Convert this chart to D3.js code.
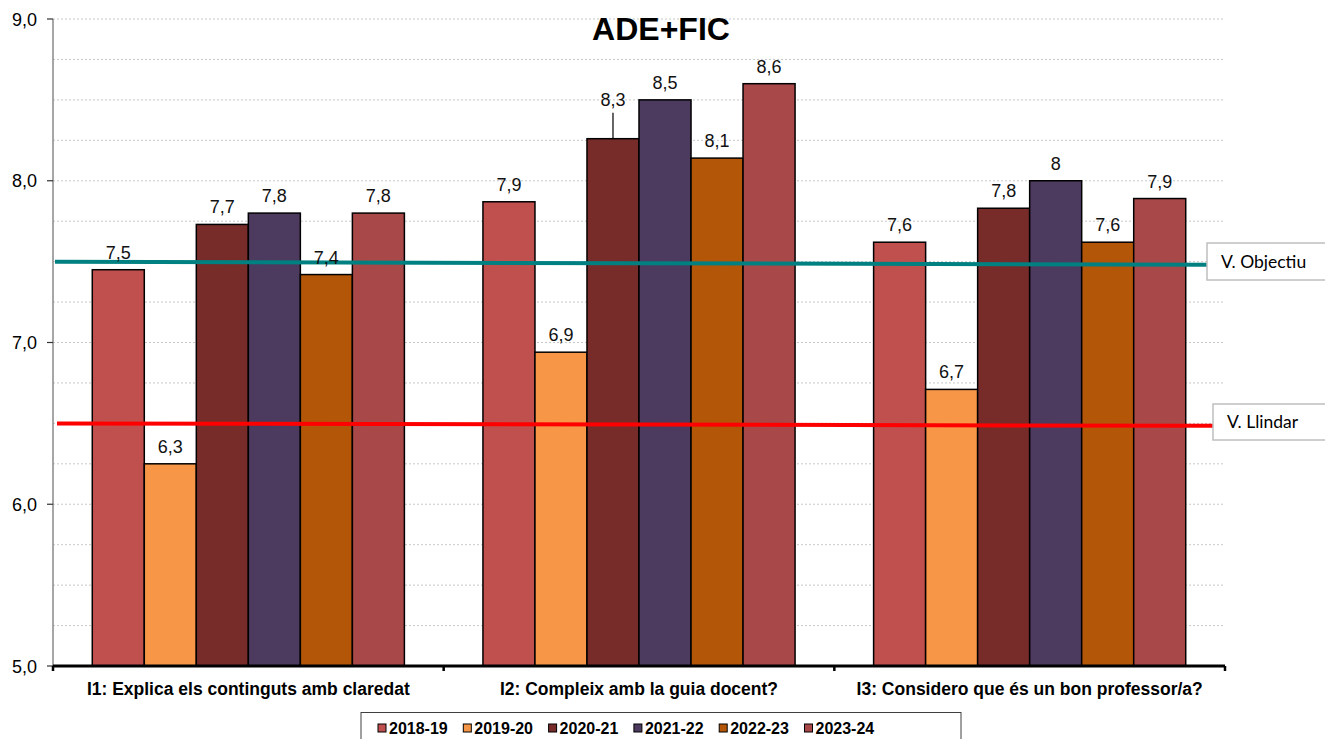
<!DOCTYPE html>
<html><head><meta charset="utf-8">
<script src="https://cdn.jsdelivr.net/npm/d3@7"></script>
<style>body{margin:0;background:#fff}svg{display:block}</style>
</head><body>
<svg id="c" width="1325" height="739"></svg>
<script>
const categories = ["I1: Explica els continguts amb claredat", "I2: Compleix amb la guia docent?", "I3: Considero que és un bon professor/a?"];
const seriesNames = ["2018-19", "2019-20", "2020-21", "2021-22", "2022-23", "2023-24"];
const s2018 = [7.45, 7.87, 7.62];
const s2019 = [6.25, 6.94, 6.71];
const s2020 = [7.73, 8.26, 7.83];
const s2021 = [7.80, 8.50, 8.00];
const s2022 = [7.42, 8.14, 7.62];
const s2023 = [7.80, 8.60, 7.89];
const lbl2018 = ["7,5", "7,9", "7,6"];
const lbl2019 = ["6,3", "6,9", "6,7"];
const lbl2020 = ["7,7", "8,3", "7,8"];
const lbl2021 = ["7,8", "8,5", "8"];
const lbl2022 = ["7,4", "8,1", "7,6"];
const lbl2023 = ["7,8", "8,6", "7,9"];
const yTicks = [5, 6, 7, 8, 9];
const yTickLabels = ["5,0", "6,0", "7,0", "8,0", "9,0"];
const objectiu = [7.5, 7.48];
const llindar = [6.5, 6.485];
const refNames = ["V. Objectiu", "V. Llindar"];

const colors = ["#C0504D", "#F79646", "#772C2A", "#4D3A5F", "#B35608", "#A94848"];
const values = [s2018, s2019, s2020, s2021, s2022, s2023];
const labels = [lbl2018, lbl2019, lbl2020, lbl2021, lbl2022, lbl2023];

const svg = d3.select("#c");
const L = 53, R = 1225, T = 19, B = 666;
const font = "'Liberation Sans', Arial, sans-serif";

const y = d3.scaleLinear().domain([5, 9]).range([B, T]);
const x0 = d3.scaleBand().domain(categories).range([L, R]).padding(0);
const x1 = d3.scaleBand().domain(seriesNames).range([0, x0.bandwidth()]).paddingInner(0).paddingOuter(0.755);

// grid
const grid = d3.range(5.25, 9.01, 0.25);
svg.append("g").selectAll("line").data(grid).join("line")
  .attr("x1", L).attr("x2", R).attr("y1", d => y(d)).attr("y2", d => y(d))
  .attr("stroke", "#c8c8c8").attr("stroke-width", 1).attr("stroke-dasharray", "2,2");

// title
svg.append("text").attr("x", 661).attr("y", 40).attr("text-anchor", "middle")
  .attr("font-family", font).attr("font-weight", "bold").attr("font-size", 32).text("ADE+FIC");

// bars
const data = [];
categories.forEach((c, ci) => seriesNames.forEach((s, si) => data.push({c, s, ci, si, v: values[si][ci], l: labels[si][ci]})));
svg.append("g").selectAll("rect").data(data).join("rect")
  .attr("x", d => x0(d.c) + x1(d.s)).attr("width", x1.bandwidth())
  .attr("y", d => y(d.v)).attr("height", d => B - y(d.v))
  .attr("fill", d => colors[d.si]).attr("stroke", "#000").attr("stroke-width", 1.5);

// reference lines
const lr = d3.scaleLinear().domain([0, 1]);
function refLine(vals, x1p, x2p, color) {
  lr.range([x1p, x2p]);
  svg.append("line").attr("x1", lr(0)).attr("x2", lr(1))
    .attr("y1", y(vals[0])).attr("y2", y(vals[1]))
    .attr("stroke", color).attr("stroke-width", 4);
}
refLine(objectiu, 55, 1207, "#008080");
refLine(llindar, 57, 1213, "#FF0000");

// value labels
const leader = {"1-2": 22};
const lg = svg.append("g");
data.forEach(d => {
  const cx = x0(d.c) + x1(d.s) + x1.bandwidth() / 2;
  const lift = leader[d.ci + "-" + d.si] || 0;
  const ty = y(d.v) - 11 - lift;
  lg.append("text").attr("x", cx).attr("y", ty).attr("text-anchor", "middle")
    .attr("font-family", font).attr("font-size", 18).attr("fill", "#111").text(d.l);
  if (lift) {
    lg.append("line").attr("x1", cx).attr("x2", cx).attr("y1", ty + 7).attr("y2", y(d.v))
      .attr("stroke", "#000").attr("stroke-width", 1.2);
  }
});

// y axis
svg.append("line").attr("x1", L).attr("x2", L).attr("y1", T).attr("y2", B)
  .attr("stroke", "#888").attr("stroke-width", 1.5);
const yg = svg.append("g");
yTicks.forEach((t, i) => {
  yg.append("line").attr("x1", L - 6).attr("x2", L).attr("y1", y(t)).attr("y2", y(t)).attr("stroke", "#333").attr("stroke-width", 1.2);
  yg.append("text").attr("x", 37).attr("y", y(t) + 6.5).attr("text-anchor", "end")
    .attr("font-family", font).attr("font-size", 18).text(yTickLabels[i]);
});

// x axis
svg.append("line").attr("x1", L).attr("x2", R).attr("y1", B).attr("y2", B).attr("stroke", "#000").attr("stroke-width", 3);
const bounds = categories.map(c => x0(c)).concat([R]);
svg.append("g").selectAll("line").data(bounds).join("line")
  .attr("x1", d => d).attr("x2", d => d).attr("y1", B).attr("y2", B + 5)
  .attr("stroke", "#000").attr("stroke-width", 2.5);
svg.append("g").selectAll("text").data(categories).join("text")
  .attr("x", d => x0(d) + x0.bandwidth() / 2).attr("y", 695).attr("text-anchor", "middle")
  .attr("font-family", font).attr("font-weight", "bold").attr("font-size", 17.5).text(d => d);

// ref labels
function refLabel(text, bx, by, bw, bh) {
  svg.append("rect").attr("x", bx).attr("y", by).attr("width", bw).attr("height", bh)
    .attr("fill", "#fff").attr("stroke", "#bfbfbf").attr("stroke-width", 1.5);
  svg.append("text").attr("x", bx + 14).attr("y", by + bh / 2 + 6)
    .attr("font-family", "Lato, 'Open Sans', sans-serif").attr("font-size", 17.5).text(text);
}
refLabel(refNames[0], 1207, 243, 140, 37);
refLabel(refNames[1], 1213, 404, 140, 36);

// legend
svg.append("rect").attr("x", 361).attr("y", 712.5).attr("width", 600).attr("height", 40)
  .attr("fill", "#fff").attr("stroke", "#404040").attr("stroke-width", 1);
const leg = svg.append("g").selectAll("g").data(seriesNames).join("g")
  .attr("transform", (d, i) => `translate(${378 + i * 85.3},0)`);
leg.append("rect").attr("x", 0).attr("y", 724).attr("width", 8).attr("height", 8)
  .attr("fill", (d, i) => colors[i]).attr("stroke", "#000").attr("stroke-width", 1);
leg.append("text").attr("x", 11).attr("y", 733.5).attr("font-family", font)
  .attr("font-weight", "bold").attr("font-size", 16).text(d => d);
</script>
</body></html>
